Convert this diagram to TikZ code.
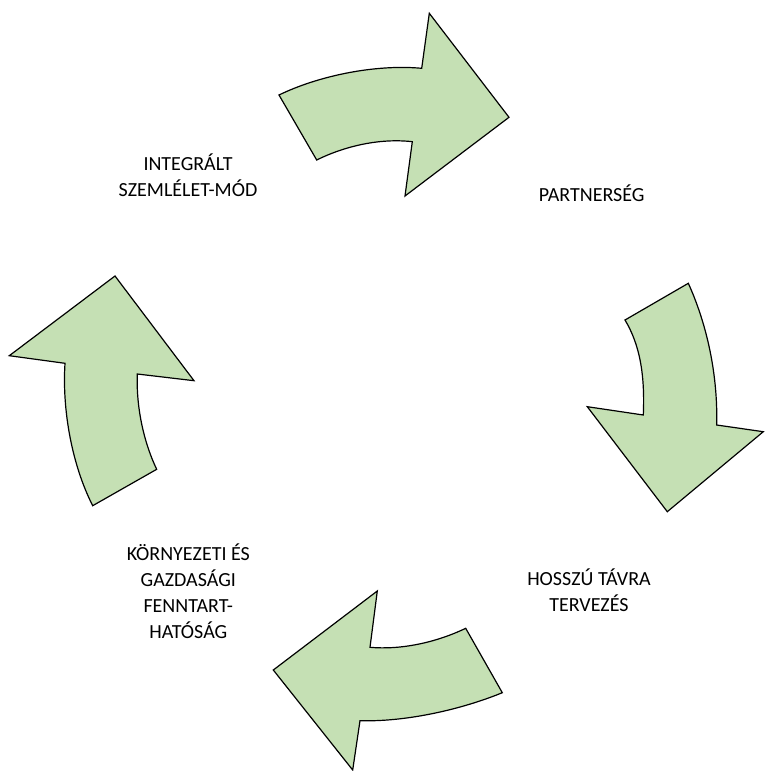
\documentclass[tikz,border=0pt]{standalone}
\usepackage{fontspec}
\setmainfont{Carlito}
\definecolor{arrowgreen}{HTML}{C5E0B4}
\begin{document}
\begin{tikzpicture}[x=1pt,y=-1pt,
  cyclearrow/.style={draw=black,fill=arrowgreen,line width=1.2pt,line join=miter},
  label/.style={align=center,font=\fontsize{20}{26}\selectfont,text=black,inner sep=0pt}]
\useasboundingbox (0,0) rectangle (764,771);
% top arrow
\draw[cyclearrow] (279,95) .. controls (318,76) and (375,64) .. (421.7,68.3) -- (429.3,13.3) -- (509,117.3) -- (405,196) -- (412.3,141.7) .. controls (380,138) and (345,146) .. (316.7,160) -- cycle;
% right arrow
\draw[cyclearrow] (688.3,283.3) .. controls (705,320) and (718,370) .. (716.7,425) -- (763.3,431.7) -- (667.3,511.7) -- (587.3,406.7) -- (643.3,415) .. controls (645,375) and (640,345) .. (625,320) -- cycle;
% bottom arrow
\draw[cyclearrow] (465.7,628.3) .. controls (435,643) and (400,650) .. (370,647.3) -- (377.3,591) -- (273.3,670) -- (352.7,770) -- (360,720.7) .. controls (405,722) and (460,710) .. (502.3,692.7) -- cycle;
% left arrow
\draw[cyclearrow] (156.7,469.3) .. controls (145,445) and (136,410) .. (137.3,374) -- (194,380.7) -- (115,276) -- (9.3,355.7) -- (65,363.3) .. controls (62,410) and (72,465) .. (92.7,505.7) -- cycle;
% labels
\node[label] (integ) at (188,175) {INTEGRÁLT\\SZEMLÉLET-MÓD};
\node[label] (partner) at (591.7,193.3) {PARTNERSÉG};
\node[label] (hosszu) at (589,590) {HOSSZÚ TÁVRA\\TERVEZÉS};
\node[label] (korny) at (188.3,591) {KÖRNYEZETI ÉS\\GAZDASÁGI\\FENNTART-\\HATÓSÁG};
\end{tikzpicture}
\end{document}
